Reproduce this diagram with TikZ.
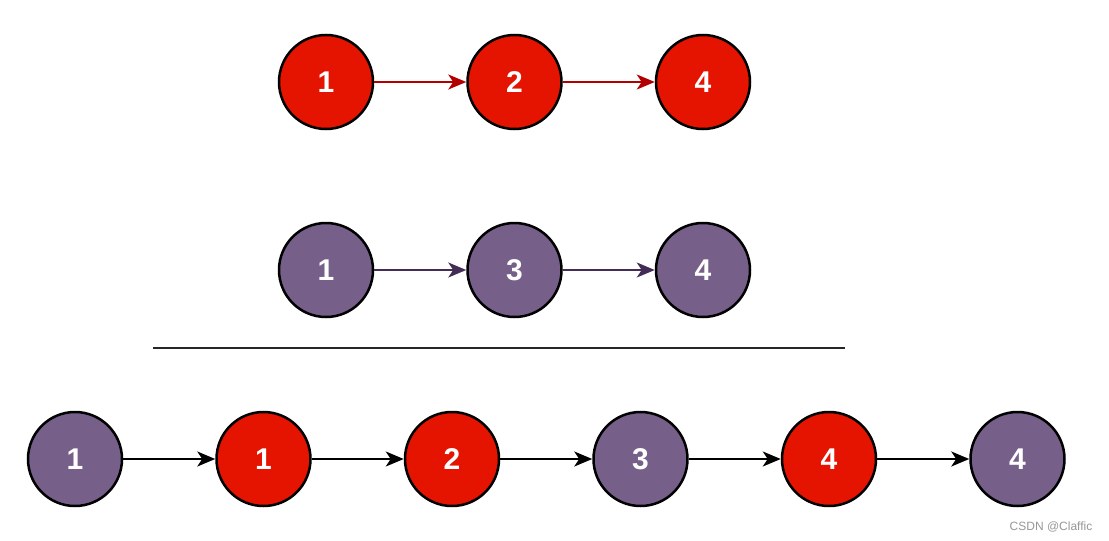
\documentclass[tikz,border=0pt]{standalone}
\usepackage{fontspec}
\setmainfont{Liberation Sans}
\usepackage{xcolor}
\usepackage{tikz}
\usetikzlibrary{positioning,arrows.meta}
\definecolor{redc}{RGB}{229,20,0}
\definecolor{redline}{RGB}{178,0,0}
\definecolor{purplec}{RGB}{118,96,138}
\definecolor{purpleline}{RGB}{67,45,87}
\definecolor{markc}{RGB}{150,150,150}
\tikzset{
  rednode/.style    = {circle, draw=black, line width=2.5pt, fill=redc, minimum size=94pt,
                       inner sep=0pt, text=white, font=\fontsize{30}{30}\selectfont\bfseries},
  purplenode/.style = {circle, draw=black, line width=2.5pt, fill=purplec, minimum size=94pt,
                       inner sep=0pt, text=white, font=\fontsize{30}{30}\selectfont\bfseries},
  flow/.style       = {-{Stealth[length=18pt,width=15pt,inset=5pt]}, line width=2pt},
}
\begin{document}
\begin{tikzpicture}[x=1pt, y=-1pt, node distance=92pt]

\useasboundingbox (0,0) rectangle (1109,541);

% first list
\node[rednode] (a1) at (326,82) {1};
\node[rednode, right=of a1] (a2) {2};
\node[rednode, right=of a2] (a3) {4};
\draw[flow, redline] (a1) -- (a2);
\draw[flow, redline] (a2) -- (a3);

% second list
\node[purplenode] (b1) at (326,270) {1};
\node[purplenode, right=of b1] (b2) {3};
\node[purplenode, right=of b2] (b3) {4};
\draw[flow, purpleline] (b1) -- (b2);
\draw[flow, purpleline] (b2) -- (b3);

% separator
\coordinate (sepl) at (153,348);
\coordinate (sepr) at (845,348);
\draw[line width=2.5pt, black!85] (sepl) -- (sepr);

% merged list
\node[purplenode] (m1) at (75,459) {1};
\node[rednode, right=of m1] (m2) {1};
\node[rednode, right=of m2] (m3) {2};
\node[purplenode, right=of m3] (m4) {3};
\node[rednode, right=of m4] (m5) {4};
\node[purplenode, right=of m5] (m6) {4};
\foreach \i/\j in {1/2,2/3,3/4,4/5,5/6}
  \draw[flow, black] (m\i) -- (m\j);

\node[text=markc, font=\fontsize{12}{12}\selectfont] (mark) at (1051,527) {CSDN @Claffic};

\end{tikzpicture}
\end{document}
